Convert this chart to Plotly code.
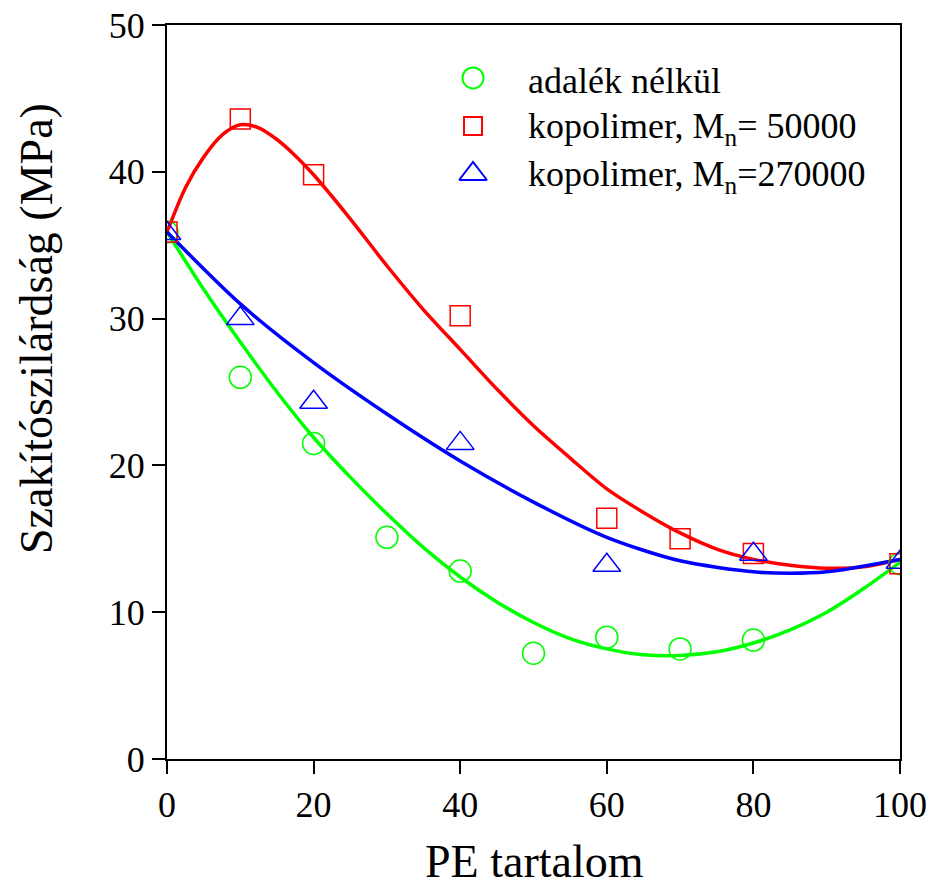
import plotly.graph_objects as go

# ---- data ----
pe_green = [0, 10, 20, 30, 40, 50, 60, 70, 80, 100]
sz_green = [35.9, 26.0, 21.5, 15.1, 12.8, 7.2, 8.3, 7.5, 8.1, 13.3]

pe_red = [0, 10, 20, 40, 60, 70, 80, 100]
sz_red = [35.9, 43.6, 39.8, 30.2, 16.4, 15.0, 14.0, 13.3]

pe_blue = [0, 10, 20, 40, 60, 80, 100]
sz_blue = [35.8, 30.0, 24.3, 21.5, 13.2, 13.95, 13.4]

# fitted curves, read as points along the drawn lines
fit_green_x = [0, 5, 10, 15, 20, 25, 30, 35, 40, 45, 50, 55, 60, 65, 70, 75, 80, 85, 90, 95, 100]
fit_green_y = [35.9, 32.0, 28.4, 25.0, 21.9, 19.2, 16.7, 14.4, 12.4, 10.7, 9.3, 8.2, 7.5, 7.1, 7.05, 7.3, 7.9, 8.8, 10.0, 11.6, 13.4]

fit_red_x = [0, 2.5, 5, 7.5, 10, 12.5, 15, 17.5, 20, 25, 30, 35, 40, 45, 50, 55, 60, 65, 70, 75, 80, 85, 90, 95, 100]
fit_red_y = [35.9, 38.9, 41.0, 42.5, 43.2, 43.0, 42.2, 41.1, 39.8, 36.8, 33.6, 30.6, 27.9, 25.2, 22.7, 20.5, 18.4, 16.8, 15.4, 14.3, 13.6, 13.2, 13.0, 13.1, 13.6]

fit_blue_x = [0, 10, 20, 30, 40, 50, 60, 70, 80, 85, 90, 100]
fit_blue_y = [35.9, 31.0, 27.0, 23.5, 20.3, 17.5, 15.1, 13.5, 12.75, 12.65, 12.75, 13.6]

legend_labels = ["adalék nélkül", "kopolimer, M<sub>n</sub>= 50000", "kopolimer, M<sub>n</sub>=270000"]

x_title = "PE tartalom"
y_title = "Szakítószilárdság (MPa)"

GREEN = "#00ff00"
RED = "#ff0000"
BLUE = "#0000ff"
FONT = "Liberation Serif"

fig = go.Figure()

# fitted lines
for fx, fy, col in [(fit_green_x, fit_green_y, GREEN),
                    (fit_red_x, fit_red_y, RED),
                    (fit_blue_x, fit_blue_y, BLUE)]:
    fig.add_trace(go.Scatter(x=fx, y=fy, mode="lines",
                             line=dict(color=col, width=3.5, shape="spline", smoothing=0.8),
                             showlegend=False, hoverinfo="skip"))

# data markers
fig.add_trace(go.Scatter(x=pe_green, y=sz_green, mode="markers", showlegend=False,
                         marker=dict(symbol="circle-open", size=22, color=GREEN, line=dict(width=1.5, color=GREEN))))
fig.add_trace(go.Scatter(x=pe_red, y=sz_red, mode="markers", showlegend=False,
                         marker=dict(symbol="square-open", size=20, color=RED, line=dict(width=1.5, color=RED))))
fig.add_trace(go.Scatter(x=pe_blue, y=sz_blue, mode="markers", showlegend=False,
                         marker=dict(symbol="triangle-up-open", size=24, color=BLUE, line=dict(width=1.5, color=BLUE))))

# custom legend (drawn on a hidden overlay axis spanning the plot area)
leg_x = 0.4175
leg_rows = [0.9278, 0.8624, 0.797]
leg_syms = [("circle-open", 21, GREEN), ("square-open", 18, RED), ("triangle-up-open", 24, BLUE)]
for (sym, sz, col), ry in zip(leg_syms, leg_rows):
    fig.add_trace(go.Scatter(x=[leg_x], y=[ry], xaxis="x2", yaxis="y2", mode="markers",
                             showlegend=False, hoverinfo="skip", cliponaxis=False,
                             marker=dict(symbol=sym, size=sz, color=col, line=dict(width=2, color=col))))

annotations = []
for lab, ry in zip(legend_labels, leg_rows):
    annotations.append(dict(text=lab, x=0.4898, y=ry - 0.004, xref="paper", yref="paper",
                            xanchor="left", yanchor="middle", showarrow=False,
                            font=dict(family=FONT, size=36, color="black")))

annotations.append(dict(text=x_title, x=0.502, y=-0.139, xref="paper", yref="paper",
                        xanchor="center", yanchor="middle", showarrow=False,
                        font=dict(family=FONT, size=46, color="black")))
annotations.append(dict(text=y_title, x=-0.1787, y=0.5858, xref="paper", yref="paper",
                        xanchor="center", yanchor="middle", showarrow=False, textangle=-90,
                        font=dict(family=FONT, size=46, color="black")))

axis_common = dict(showgrid=False, zeroline=False, showline=True, linecolor="black", linewidth=2,
                   mirror=True, ticks="outside", ticklen=13, tickwidth=2, tickcolor="black",
                   automargin=False,
                   tickfont=dict(family=FONT, size=36, color="black"))

fig.update_layout(
    width=931, height=881,
    margin=dict(l=167, r=31, t=25, b=122),
    paper_bgcolor="white", plot_bgcolor="white",
    xaxis=dict(range=[0, 100], tickvals=[0, 20, 40, 60, 80, 100], **axis_common),
    yaxis=dict(range=[0, 50], tickvals=[0, 10, 20, 30, 40, 50], **axis_common),
    xaxis2=dict(overlaying="x", range=[0, 1], visible=False, anchor="y2"),
    yaxis2=dict(overlaying="y", range=[0, 1], visible=False, anchor="x2"),
    annotations=annotations,
    showlegend=False,
)

fig.write_html("out.html")
